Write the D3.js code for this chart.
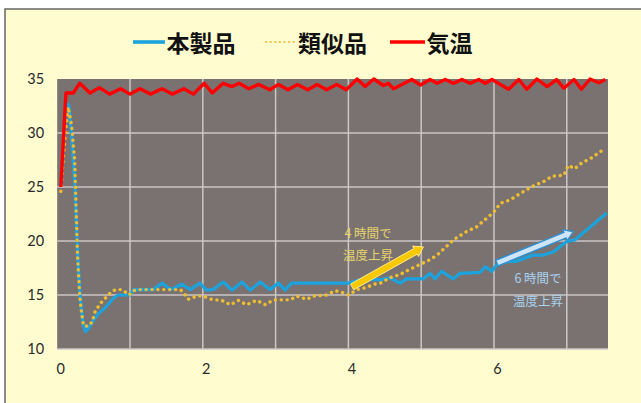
<!DOCTYPE html>
<html><head><meta charset="utf-8">
<script src="https://cdn.jsdelivr.net/npm/d3@7"></script>
<style>body{margin:0;background:#fff}svg{display:block}</style>
</head><body>
<script>
// ---- data ----
const seriesNames = ["本製品", "類似品", "気温"];
const yTicks = [10, 15, 20, 25, 30, 35];
const xTicks = [0, 2, 4, 6];
const xGrid = [1, 2, 3, 4, 5, 6, 7];

const product = [[0.05,25],[0.12,32.8],[0.16,32.6],[0.2,29.5],[0.24,25.5],[0.27,20.5],[0.3,16.5],[0.33,13.8],[0.36,12.2],[0.39,11.6],[0.43,11.9],[0.5,12.7],[0.57,13.3],[0.64,13.7],[0.71,14.2],[0.77,14.7],[0.84,15.0],[1.0,15.0],[1.05,15.5],[1.32,15.5],[1.44,16.1],[1.56,15.5],[1.71,16.0],[1.83,15.5],[1.96,16.1],[2.05,15.45],[2.14,15.5],[2.28,16.2],[2.4,15.45],[2.54,16.2],[2.65,15.45],[2.79,16.2],[2.92,15.5],[3.04,16.1],[3.13,15.45],[3.22,16.1],[4.0,16.1],[4.1,16.3],[4.2,16.5],[4.43,16.4],[4.57,16.6],[4.71,16.1],[4.8,16.5],[5.03,16.5],[5.12,17.0],[5.19,16.5],[5.28,17.2],[5.44,16.5],[5.53,17.0],[5.81,17.1],[5.88,17.6],[5.97,17.2],[6.04,17.8],[6.2,18.1],[6.3,18.1],[6.42,18.4],[6.54,18.7],[6.68,18.7],[6.82,19.0],[6.91,19.5],[7.0,19.95],[7.11,20.1],[7.32,21.3],[7.55,22.6]];

const similar = [[0.05,24.6],[0.1,29],[0.15,32.4],[0.2,30.6],[0.24,27.5],[0.26,23],[0.28,18.5],[0.31,14.9],[0.33,13.6],[0.36,12.2],[0.42,12.1],[0.48,12.5],[0.52,13.45],[0.59,14.2],[0.66,14.7],[0.73,15.2],[0.8,15.5],[0.87,15.5],[0.93,15.3],[0.99,15.0],[1.05,15.4],[1.1,15.5],[1.69,15.5],[1.74,15.2],[1.8,14.6],[1.92,14.9],[2.0,14.9],[2.12,14.6],[2.26,14.5],[2.38,14.1],[2.49,14.5],[2.6,14.1],[2.74,14.5],[2.86,14.1],[2.97,14.55],[3.2,14.55],[3.29,14.9],[3.43,14.6],[3.52,14.9],[3.7,15.0],[3.82,15.4],[3.93,15.2],[4.0,15.0],[4.12,15.5],[4.25,15.7],[4.35,16.0],[4.44,16.1],[4.57,16.6],[4.71,16.9],[4.85,17.4],[4.96,17.75],[5.1,18.2],[5.22,18.7],[5.44,20.1],[5.63,20.9],[5.76,21.3],[5.88,22.0],[6.0,22.7],[6.09,23.5],[6.22,23.8],[6.36,24.4],[6.54,25.1],[6.68,25.5],[6.8,26.0],[6.96,26.1],[7.02,27.0],[7.11,26.7],[7.2,27.2],[7.34,27.7],[7.51,28.5]];

const airTemp = [[0.05,25],[0.12,33.7],[0.22,33.7],[0.31,34.6],[0.45,33.7],[0.58,34.2],[0.72,33.6],[0.87,34.1],[1.0,33.6],[1.14,34.1],[1.28,33.6],[1.44,34.1],[1.58,33.6],[1.74,34.1],[1.87,33.6],[2.02,34.6],[2.13,33.7],[2.28,34.6],[2.4,34.3],[2.5,34.6],[2.63,34.1],[2.77,34.5],[2.92,34.0],[3.04,34.5],[3.17,34.0],[3.3,34.5],[3.44,34.0],[3.57,34.5],[3.7,34.0],[3.84,34.5],[3.97,34.0],[4.12,35.0],[4.23,34.3],[4.35,35.0],[4.48,34.4],[4.55,34.6],[4.62,34.1],[4.87,34.95],[4.99,34.45],[5.12,34.95],[5.22,34.6],[5.33,34.95],[5.44,34.6],[5.56,34.95],[5.67,34.6],[5.79,34.95],[5.88,34.6],[5.97,34.95],[6.2,34.05],[6.34,34.95],[6.45,34.05],[6.59,35.0],[6.73,34.3],[6.86,34.95],[6.96,34.15],[7.1,34.95],[7.2,34.05],[7.32,35.0],[7.44,34.65],[7.53,34.95]];

// annotations: arrow endpoints in data units, label lines
const arrow4 = [[4.05,15.75],[5.03,19.45]];
const arrow6 = [[6.04,17.96],[7.09,20.86]];
const label4 = ["4 時間で", "温度上昇"];
const label6 = ["6 時間で", "温度上昇"];

// ---- drawing ----
const W = 641, H = 403;
const svg = d3.select("body").append("svg").attr("width", W).attr("height", H);
const colors = {product:"#1ca3de", similar:"#efbd30", air:"#ff0000"};

svg.append("rect").attr("x",5).attr("y",9).attr("width",W+10).attr("height",H)
  .attr("fill","#fffdd0").attr("stroke","#666").attr("stroke-width",1.5);

const plot = {l:57.2, r:608, t:79, b:349};
const x = d3.scaleLinear().domain([0, 7.566]).range([plot.l, plot.r]);
const y = d3.scaleLinear().domain([10, 35]).range([plot.b, plot.t]);

svg.append("rect").attr("x",plot.l).attr("y",plot.t).attr("width",plot.r-plot.l).attr("height",plot.b-plot.t)
  .attr("fill","#7a7270");

const grid = svg.append("g").attr("stroke","#cbc7c6").attr("stroke-width",1.5);
grid.selectAll(".h").data(yTicks.filter(v=>v<35)).join("line")
  .attr("x1",plot.l).attr("x2",plot.r).attr("y1",d=>y(d)).attr("y2",d=>y(d));
grid.selectAll(".v").data(xGrid).join("line")
  .attr("x1",d=>x(d)).attr("x2",d=>x(d)).attr("y1",plot.t).attr("y2",plot.b);

const fontNum = "Lato, 'Noto Sans', sans-serif";
const yAxis = svg.append("g").attr("transform",`translate(${plot.l},0)`)
  .call(d3.axisLeft(y).tickValues(yTicks).tickSize(0).tickPadding(13));
const xAxis = svg.append("g").attr("transform",`translate(3,${plot.b})`)
  .call(d3.axisBottom(x).tickValues(xTicks).tickSize(0).tickPadding(15));
[yAxis, xAxis].forEach(a=>{
  a.select(".domain").remove();
  a.selectAll("text").attr("font-family",fontNum).attr("font-size",14.5).attr("fill","#2a2a2a");
});

const line = d3.line().x(d=>x(d[0])).y(d=>y(d[1]));
svg.append("path").datum(product).attr("d",line).attr("fill","none")
  .attr("stroke",colors.product).attr("stroke-width",3.2).attr("stroke-linejoin","round");
svg.append("path").datum(similar).attr("d",line).attr("fill","none")
  .attr("stroke",colors.similar).attr("stroke-width",3.4).attr("stroke-linecap","round")
  .attr("stroke-dasharray","0.1 5.8");
svg.append("path").datum(airTemp).attr("d",line).attr("fill","none")
  .attr("stroke",colors.air).attr("stroke-width",3.4).attr("stroke-linejoin","round");

// block arrows
function arrowPath(p0, p1, shaft, headW, headL){
  const x0=x(p0[0]), y0=y(p0[1]), x1=x(p1[0]), y1=y(p1[1]);
  const dx=x1-x0, dy=y1-y0, len=Math.hypot(dx,dy);
  const ux=dx/len, uy=dy/len, nx=-uy, ny=ux;
  const bx=x1-ux*headL, by=y1-uy*headL;
  const pts=[[x0+nx*shaft/2,y0+ny*shaft/2],[bx+nx*shaft/2,by+ny*shaft/2],[bx+nx*headW/2,by+ny*headW/2],
    [x1,y1],[bx-nx*headW/2,by-ny*headW/2],[bx-nx*shaft/2,by-ny*shaft/2],[x0-nx*shaft/2,y0-ny*shaft/2]];
  return "M"+pts.map(p=>p.join(",")).join("L")+"Z";
}
svg.append("path").attr("d",arrowPath(arrow4[0],arrow4[1],6.5,12,9))
  .attr("fill","#f8c800").attr("stroke","#ffe98a").attr("stroke-width",1);
svg.append("path").attr("d",arrowPath(arrow6[0],arrow6[1],6,12,9))
  .attr("fill","#cfe5f7").attr("stroke","#2d8fd2").attr("stroke-width",1.4);

const fontJP = "'Noto Sans CJK JP', sans-serif";
function label(lines, cx, cy, color){
  svg.append("g").selectAll("text").data(lines).join("text")
    .attr("x",cx).attr("y",(d,i)=>cy+i*22.5).attr("text-anchor","middle").attr("dominant-baseline","central")
    .attr("font-family",fontJP).attr("font-size",12.5).attr("fill",color).text(d=>d);
}
label(label4, 368, 232, "#e6d46e");
label(label6, 538, 277.5, "#a9d3f0");

// legend
const leg = svg.append("g").attr("font-family",fontJP).attr("font-size",23).attr("font-weight","bold");
const legItems = [
  {name:seriesNames[0], c:colors.product, x0:133, x1:165, dash:null},
  {name:seriesNames[1], c:colors.similar, x0:266, x1:295, dash:"0.1 4.5"},
  {name:seriesNames[2], c:colors.air, x0:390, x1:425, dash:null}
];
legItems.forEach(it=>{
  leg.append("line").attr("x1",it.x0).attr("x2",it.x1).attr("y1",42).attr("y2",42)
    .attr("stroke",it.c).attr("stroke-width",it.dash?2.2:3.6)
    .attr("stroke-linecap",it.dash?"round":"butt").attr("stroke-dasharray",it.dash);
  leg.append("text").attr("x",it.x1+(it.dash?3:1.5)).attr("y",42).attr("dominant-baseline","central")
    .attr("fill","#111").text(it.name);
});
</script>
</body></html>
